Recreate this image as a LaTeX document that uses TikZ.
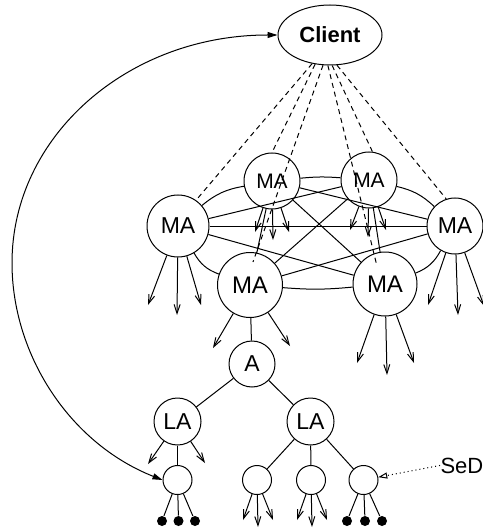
\documentclass[tikz,border=0pt]{standalone}
\usepackage{fontspec}
\setmainfont{Liberation Sans}
\usetikzlibrary{arrows.meta,shapes.geometric}
\begin{document}
\begin{tikzpicture}[x=0.5pt,y=-0.5pt, line width=0.5pt,
  agent/.style={circle,draw,fill=white,inner sep=0pt},
  fa/.style={font=\fontsize{10.5}{12}\selectfont},
  fb/.style={font=\fontsize{11.5}{13}\selectfont},
  fc/.style={font=\fontsize{12}{14}\selectfont},
  fan/.style={-{Straight Barb[length=4.5pt,width=3pt]}},
  req/.style={dash pattern=on 2.5pt off 2pt},
  dotnode/.style={circle,fill,inner sep=0pt,minimum size=5pt}]
\useasboundingbox (0,0) rectangle (482,529);

% nodes
\node[draw,ellipse,minimum width=52pt,minimum height=30pt,inner sep=0pt,
      font=\bfseries\fontsize{11}{13}\selectfont] (C) at (330,35) {Client};
\node[agent,fb,minimum size=31pt] (L) at (178,226) {MA};
\node[agent,fa,minimum size=28pt] (TL) at (272,181) {MA};
\node[agent,fa,minimum size=28pt] (TR) at (369,180) {MA};
\node[agent,fb,minimum size=28pt] (R) at (455,226) {MA};
\node[agent,fc,minimum size=32.5pt] (BL) at (250,285) {MA};
\node[agent,fc,minimum size=32pt] (BR) at (385,284) {MA};
\node[agent,fb,minimum size=23pt] (A) at (252,364) {A};
\node[agent,fb,minimum size=23.5pt] (LA1) at (177.5,421.5) {LA};
\node[agent,fb,minimum size=23.5pt] (LA2) at (310.5,421.5) {LA};
\node[agent,minimum size=14.5pt] (leaf1) at (177.5,480) {};
\node[agent,minimum size=14.5pt] (leaf2) at (257,480) {};
\node[agent,minimum size=14.5pt] (leaf3) at (311,480) {};
\node[agent,minimum size=14.5pt] (leaf4) at (363.5,480) {};
\node[dotnode] (d1) at (162,521) {};
\node[dotnode] (d2) at (178.5,521) {};
\node[dotnode] (d3) at (195,521) {};
\node[dotnode] (d4) at (347,521) {};
\node[dotnode] (d5) at (365,521) {};
\node[dotnode] (d6) at (382,521) {};
\node[font=\fontsize{11}{13}\selectfont,anchor=base west,inner sep=0pt] (S) at (440,473) {SeD};

% ring of MAs
\draw (L) to[bend left=15] (TL);
\draw (TL) to[bend left=5] (TR);
\draw (TR) to[bend left=15] (R);
\draw (R) to[bend left=20] (BR);
\draw (BR) to[bend left=5] (BL);
\draw (BL) to[bend left=20] (L);
% chords
\draw (L) -- (R);
\draw (L) -- (TR);
\draw (L) -- (BR);
\draw (TL) -- (R);
\draw (TL) -- (BR);
\draw (TL) -- (BL);
\draw (TR) -- (BL);
\draw (TR) -- (BR);
\draw (R) -- (BL);

% fan-out arrow ends
\coordinate (l1) at (148,305); \coordinate (l2) at (177,315); \coordinate (l3) at (201,305);
\coordinate (tl1) at (255,232); \coordinate (tl2) at (273,240); \coordinate (tl3) at (289,232);
\coordinate (tr1) at (350,230); \coordinate (tr2) at (368,237); \coordinate (tr3) at (386,230);
\coordinate (r1) at (428,305); \coordinate (r2) at (458,315); \coordinate (r3) at (484,306);
\coordinate (bl1) at (213,348); \coordinate (bl2) at (290,346);
\coordinate (br1) at (357,363); \coordinate (br2) at (387,375); \coordinate (br3) at (414,363);
\coordinate (la1) at (148,464); \coordinate (la2) at (205,463);
\coordinate (e1) at (243,520); \coordinate (e2) at (258,527); \coordinate (e3) at (273,520);
\coordinate (f1) at (297,520); \coordinate (f2) at (312,527); \coordinate (f3) at (327,520);

\foreach \n/\t in {L/l1,L/l2,L/l3,TL/tl1,TL/tl2,TL/tl3,TR/tr1,TR/tr2,TR/tr3,
  R/r1,R/r2,R/r3,BL/bl1,BL/bl2,BR/br1,BR/br2,BR/br3,LA1/la1,LA1/la2,
  leaf2/e1,leaf2/e2,leaf2/e3,leaf3/f1,leaf3/f2,leaf3/f3}
  \draw[fan] (\n) -- (\t);

% tree
\draw (BL) -- (A);
\draw (A) -- (LA1);
\draw (A) -- (LA2);
\draw (LA1) -- (leaf1);
\draw (LA2) -- (leaf2);
\draw (LA2) -- (leaf3);
\draw (LA2) -- (leaf4);
\draw (leaf1) -- (d1); \draw (leaf1) -- (d2); \draw (leaf1) -- (d3);
\draw (leaf4) -- (d4); \draw (leaf4) -- (d5); \draw (leaf4) -- (d6);

% client requests
\draw[req] (C.-122) -- (L.55);
\draw[req] (C.-117) -- (TL.90);
\draw[req,shorten >=-5pt] (C.-103) -- (BL.79);
\draw[req,shorten >=-5pt] (C.-94) -- (BR.110);
\draw[req] (C.-86) -- (TR.83);
\draw[req] (C.-77) -- (R.108);

% long curved arrow
\draw[{Triangle[length=5pt,width=3pt]}-{Triangle[length=5pt,width=3pt]}]
  (C.west) .. controls (128,35) and (12,136) .. (12,263)
  .. controls (12,354) and (69,443) .. (leaf1.west);

% SeD pointer
\draw[dash pattern=on 0.5pt off 1.5pt,-{Triangle[open,length=4.5pt,width=3pt]}] (S.west) -- (leaf4);
\end{tikzpicture}
\end{document}
